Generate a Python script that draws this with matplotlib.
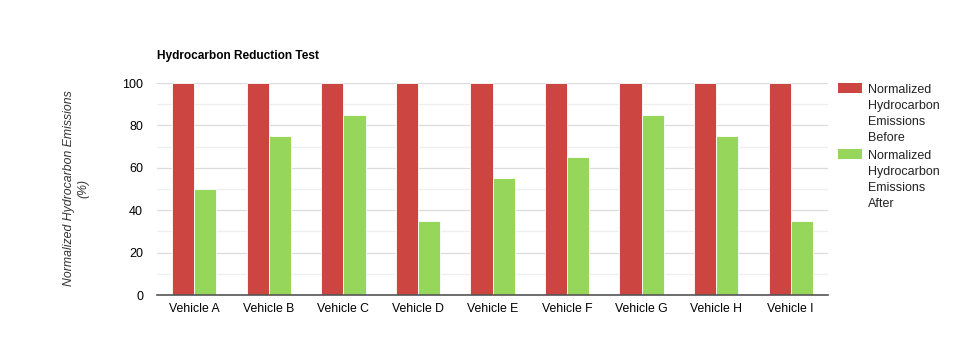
import numpy as np
import matplotlib as mpl
import matplotlib.pyplot as plt
from matplotlib.patches import Rectangle
from matplotlib.ticker import MultipleLocator

mpl.rcParams['font.family'] = ['Liberation Sans', 'DejaVu Sans']

vehicles = ['Vehicle A', 'Vehicle B', 'Vehicle C', 'Vehicle D', 'Vehicle E',
            'Vehicle F', 'Vehicle G', 'Vehicle H', 'Vehicle I']
before = [100, 100, 100, 100, 100, 100, 100, 100, 100]
after = [50, 75, 85, 35, 55, 65, 85, 75, 35]
labels = ['Normalized\nHydrocarbon\nEmissions\nBefore',
          'Normalized\nHydrocarbon\nEmissions\nAfter']

red = '#cc4540'
green = '#96d65a'
colors = [red, green]

W, H = 980, 360
fig = plt.figure(figsize=(W / 100, H / 100), dpi=100)
ax = fig.add_axes([157 / W, 1 - 295 / H, 671 / W, 212 / H])

x = np.arange(len(vehicles))
w = 0.298
ax.bar(x - w / 2, before, w, color=red, edgecolor='white', linewidth=0.6,
       zorder=3)
ax.bar(x + w / 2, after, w, color=green, edgecolor='white', linewidth=0.6,
       zorder=3)

ax.set_xlim(-0.5, len(vehicles) - 0.5)
ax.set_ylim(0, 100)
ax.set_xticks(x)
ax.set_xticklabels(vehicles, fontsize=8.8)
ax.yaxis.set_major_locator(MultipleLocator(20))
ax.yaxis.set_minor_locator(MultipleLocator(10))
ax.tick_params(axis='y', which='both', length=0, labelsize=9, pad=10)
ax.tick_params(axis='x', length=0, pad=6)
ax.grid(axis='y', which='major', color='#dcdcdc', linewidth=0.9, zorder=0)
ax.grid(axis='y', which='minor', color='#efefef', linewidth=0.9, zorder=0)
for s in ['left', 'right', 'top']:
    ax.spines[s].set_visible(False)
ax.spines['bottom'].set_color('#555555')
ax.spines['bottom'].set_linewidth(1.2)
ax.spines['bottom'].set_zorder(4)

fig.text(157 / W, 1 - 56 / H, 'Hydrocarbon Reduction Test', fontsize=8.6,
         fontweight='bold', ha='left', va='center')
fig.text(76 / W, 1 - 188 / H, 'Normalized Hydrocarbon Emissions\n(%)',
         fontsize=8.8, style='italic', color='#333333', rotation=90,
         ha='center', va='center', multialignment='center',
         linespacing=1.25)

# legend, drawn by hand so the swatch sits on the first text line
for i, (lab, c) in enumerate(zip(labels, colors)):
    top = 83 + i * 66
    fig.patches.append(Rectangle((838 / W, 1 - (top + 10) / H), 24 / W,
                                 10 / H, transform=fig.transFigure,
                                 facecolor=c, edgecolor='none'))
    fig.text(868 / W, 1 - (top + 1) / H, lab, fontsize=9, ha='left',
             va='top', linespacing=1.45, color='#222222')

fig.savefig('out.png', dpi=100)
